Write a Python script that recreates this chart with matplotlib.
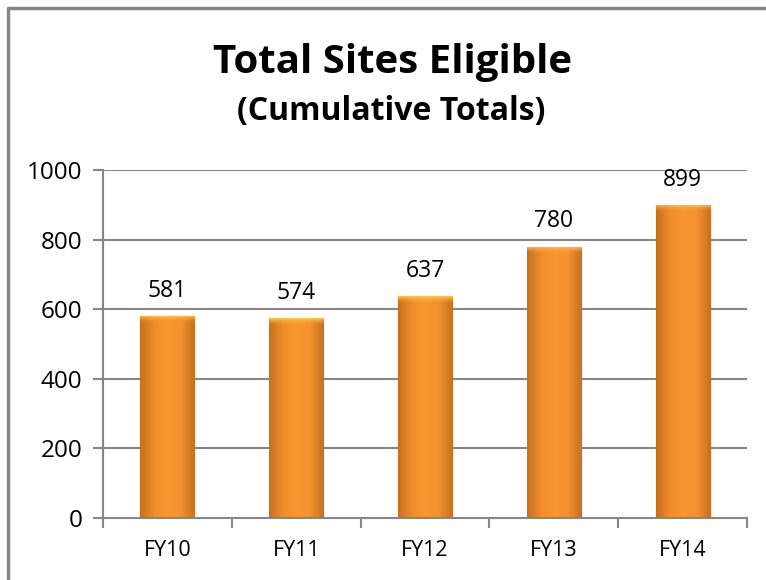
import numpy as np
from matplotlib import pyplot as plt
from matplotlib.lines import Line2D
from matplotlib.colors import LinearSegmentedColormap

categories = ["FY10", "FY11", "FY12", "FY13", "FY14"]
values = [581, 574, 637, 780, 899]
y_ticks = [0, 200, 400, 600, 800, 1000]

plt.rcParams['font.family'] = ['Open Sans', 'DejaVu Sans']

W, H = 766, 580
fig = plt.figure(figsize=(W / 100, H / 100), dpi=100)
ax = fig.add_axes([103 / W, 1 - 518 / H, (747 - 103) / W, (518 - 170) / H])

grey = '#868686'

# gridlines behind bars
for t in y_ticks[1:]:
    ax.axhline(t, color=grey, lw=1.5, zorder=0)

x = np.arange(len(categories))
bars = ax.bar(x, values, width=0.42, color='#F7962F', edgecolor='#A95E1E',
              linewidth=0.8, zorder=2)

# cylinder-like shading on each bar
shade = LinearSegmentedColormap.from_list(
    'shade', ['#C8701F', '#F08D2C', '#F9982F', '#F39230', '#C8701F'])
cap_cmap = LinearSegmentedColormap.from_list(
    'cap', [(1, 0.62, 0.2, 0.0), (1, 0.82, 0.35, 0.9)])
for b in bars:
    bx, by = b.get_x(), b.get_y()
    bw, bh = b.get_width(), b.get_height()
    grad = np.tile(np.linspace(0, 1, 64), (64, 1))
    im = ax.imshow(grad, cmap=shade, aspect='auto', zorder=2.5,
                   extent=[bx, bx + bw, by, by + bh], origin='lower')
    im.set_clip_path(b)
    # lighter top bevel
    cap = 18
    vgrad = np.tile(np.linspace(0, 1, 32)[:, None], (1, 32))
    ci = ax.imshow(vgrad, cmap=cap_cmap, aspect='auto', zorder=2.6,
                   extent=[bx, bx + bw, by + bh - cap, by + bh], origin='lower')
    ci.set_clip_path(b)
    ax.text(bx + bw / 2, by + bh + 38, str(b.get_height()), ha='center',
            va='bottom', fontsize=16.5, zorder=3)

ax.set_xlim(-0.5, len(categories) - 0.5)
ax.set_ylim(0, 1000)
ax.set_yticks(y_ticks)
ax.set_yticklabels([str(t) for t in y_ticks], fontsize=17.5)
ax.set_xticks(np.arange(-0.5, len(categories), 1.0))
ax.set_xticklabels([])
ax.set_xticks(x, minor=True)
ax.set_xticklabels(categories, minor=True, fontsize=15.5)
ax.tick_params(axis='x', which='minor', length=0, pad=16)
ax.tick_params(axis='x', which='major', length=7, width=1.5, color=grey, direction='out')
ax.tick_params(axis='y', length=7, width=1.5, color=grey, direction='out', pad=8)

for side in ['top', 'right']:
    ax.spines[side].set_visible(False)
for side in ['left', 'bottom']:
    ax.spines[side].set_color(grey)
    ax.spines[side].set_linewidth(1.5)

fig.text(393 / W, 1 - 62 / H, "Total Sites Eligible", ha='center', va='center',
         fontsize=29, fontweight='bold')
fig.text(391 / W, 1 - 112 / H, "(Cumulative Totals)", ha='center', va='center',
         fontsize=23, fontweight='bold')

# outer frame (left and top edges)
fig.add_artist(Line2D([8 / W, 8 / W, 765 / W], [0, 1 - 8 / H, 1 - 8 / H],
                      color=grey, lw=2.5, transform=fig.transFigure))

fig.savefig('out.png', dpi=100)
